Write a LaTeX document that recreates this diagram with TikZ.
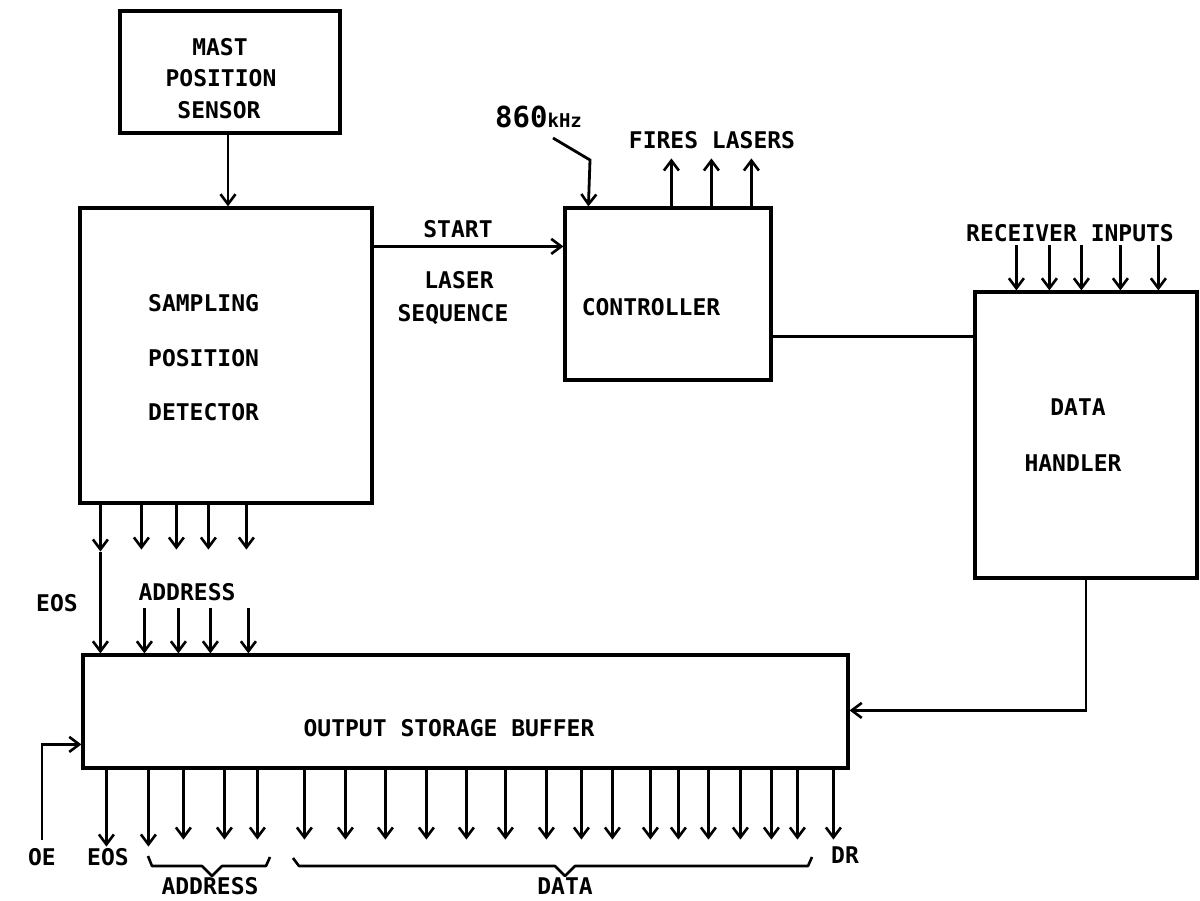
\documentclass[tikz,border=0pt]{standalone}
\usepackage{fontspec}
\setmonofont{DejaVu Sans Mono}
\usetikzlibrary{arrows.meta}
\tikzset{
  box/.style={draw, line width=3.2pt, inner sep=0pt},
  lbl/.style={font=\ttfamily\bfseries\fontsize{23}{27}\selectfont, inner sep=0pt},
  arr/.style={line width=2.8pt, -{Straight Barb[length=10pt,width=15pt,line width=2.6pt]}},
  wire/.style={line width=2.8pt},
  brace/.style={line width=2.6pt, line join=round}
}
\begin{document}
\begin{tikzpicture}[x=1pt,y=-1pt]
\useasboundingbox (0,0) rectangle (1200,901);
% boxes
\node[box, minimum width=220, minimum height=122] (mast) at (230,72) {};
\node[box, minimum width=292, minimum height=295] (samp) at (226,355.5) {};
\node[box, minimum width=206, minimum height=172] (ctrl) at (668,294) {};
\node[box, minimum width=222, minimum height=286] (dh) at (1086,435) {};
\node[box, minimum width=765, minimum height=113] (buf) at (465.5,711.5) {};
% labels
\node[lbl] (l1) at (220,47) {MAST};
\node[lbl] (l2) at (221,78) {POSITION};
\node[lbl] (l3) at (219,110) {SENSOR};
\node[lbl, anchor=west] (l4) at (148,303) {SAMPLING};
\node[lbl, anchor=west] (l5) at (148,358) {POSITION};
\node[lbl, anchor=west] (l6) at (148,412) {DETECTOR};
\node[lbl] (l7) at (458,229) {START};
\node[lbl] (l8) at (459,280) {LASER};
\node[lbl] (l9) at (453,315) {SEQUENCE};
\node[lbl] (l10) at (651,307) {CONTROLLER};
\node[lbl] (l11) at (712,140) {FIRES LASERS};
\node[lbl, anchor=west] (l12) at (495,117) {\fontsize{29}{30}\selectfont 860\fontsize{19}{20}\selectfont kHz};
\node[lbl] (l13) at (1070,233) {RECEIVER INPUTS};
\node[lbl] (l14) at (1078,407) {DATA};
\node[lbl] (l15) at (1073,463) {HANDLER};
\node[lbl] (l16) at (57,603) {EOS};
\node[lbl] (l17) at (187,592) {ADDRESS};
\node[lbl] (l18) at (449,728) {OUTPUT STORAGE BUFFER};
\node[lbl] (l19) at (42,857) {OE};
\node[lbl] (l20) at (108,857) {EOS};
\node[lbl] (l21) at (845,855) {DR};
\node[lbl] (l22) at (210,886) {ADDRESS};
\node[lbl] (l23) at (565,886) {DATA};
% connectors
\draw[arr] ([xshift=-2pt]mast.south) -- ([xshift=-2pt]mast.south |- samp.north);
\coordinate (s1) at ([yshift=-40pt]samp.north east);
\draw[arr] (s1) -- (s1 -| ctrl.west);
\coordinate (c1) at ([yshift=-130pt]ctrl.north east);
\draw[wire] (c1) -- (c1 -| dh.west);
\coordinate (b1) at ([yshift=-57pt]buf.north east);
\draw[arr] (dh.south) |- (b1);
\coordinate (oe) at (42,840);
\coordinate (b2) at ([yshift=-91pt]buf.north west);
\draw[arr] (oe) |- (b2);
\coordinate (k1) at (553,138);
\coordinate (k2) at (590,160);
\draw[arr] (k1) -- (k2) -- ([xshift=25pt]ctrl.north west);
\foreach \o in {108,148,188}
  \draw[arr] ([xshift=\o pt]ctrl.north west) -- ++(0,-48);
\foreach \o in {43,76,108,147,185}
  \draw[arr] ([xshift=\o pt,yshift=45pt]dh.north west) -- ([xshift=\o pt]dh.north west);
% sampling to buffer
\coordinate (e1) at ([xshift=22pt,yshift=-47pt]samp.south west);
\draw[arr] ([xshift=22pt]samp.south west) -- (e1);
\draw[arr] (e1) -- (e1 |- buf.north);
\foreach \o in {63,98,130,168}
  \draw[arr] ([xshift=\o pt]samp.south west) -- ++(0,45);
\foreach \o in {63,97,129,167}
  \draw[arr] ([xshift=\o pt,yshift=45pt]buf.north west) -- ([xshift=\o pt]buf.north west);
% buffer outputs
\foreach \o in {25,67}
  \draw[arr] ([xshift=\o pt]buf.south west) -- ++(0,77);
\foreach \o in {102,143,176,223,264,304,345,385,424,465,500,531,569,597,627,659,690,716,752}
  \draw[arr] ([xshift=\o pt]buf.south west) -- ++(0,70);
% braces
\draw[brace] (148,856) -- (152,866) -- (202,866) -- (212,876) -- (222,866) -- (266,866) -- (270,857);
\draw[brace] (293,858) -- (299,866) -- (555,866) -- (565,876) -- (575,866) -- (808,866) -- (812,857);
\end{tikzpicture}
\end{document}
